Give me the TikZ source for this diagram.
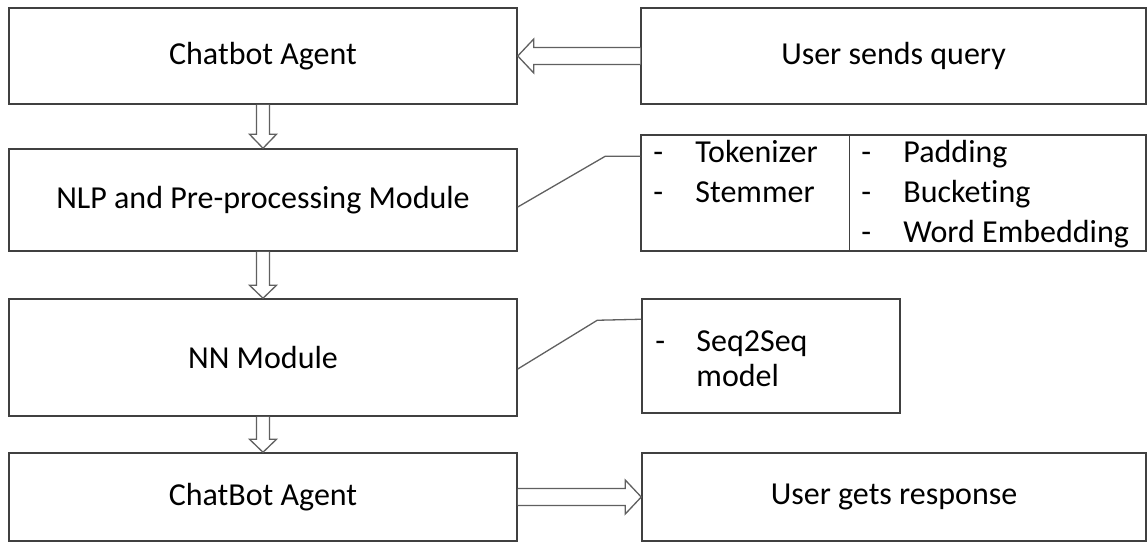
\documentclass[tikz,border=0pt]{standalone}
\usepackage{fontspec}
\setmainfont{Carlito}[Ligatures=NoCommon,Contextuals=NoAlternate]
\usetikzlibrary{calc}
\definecolor{boxline}{HTML}{404040}
\definecolor{arrline}{HTML}{606060}
\begin{document}
\begin{tikzpicture}[x=1pt,y=-1pt,
  box/.style={draw=boxline,line width=1.5pt,inner sep=0pt,font=\fontsize{32}{39}\selectfont},
  blockarr/.style={draw=arrline,line width=1.3pt,fill=white,line join=miter},
  link/.style={draw=arrline,line width=1.3pt},
  item/.style={anchor=base west,inner sep=0pt,font=\fontsize{32}{39}\selectfont}]
\useasboundingbox (0,0) rectangle (1147,544);
% boxes
\node[box,minimum width=508,minimum height=96] (c1) at (263,56) {\raisebox{-2pt}{Chatbot Agent}};
\node[box,minimum width=505,minimum height=96] (q) at (893.5,56) {\raisebox{-2pt}{User sends query}};
\node[box,minimum width=508,minimum height=102] (nlp) at (263,200) {\raisebox{-2pt}{NLP and Pre-processing Module}};
\node[box,minimum width=505,minimum height=116] (tok) at (893.5,193) {};
\node[box,minimum width=508,minimum height=117] (nn) at (263,357.5) {\raisebox{-2pt}{NN Module}};
\node[box,minimum width=258,minimum height=114] (seq) at (771,356) {};
\node[box,minimum width=508,minimum height=88] (c4) at (263,497) {\raisebox{-2pt}{ChatBot Agent}};
\node[box,minimum width=504,minimum height=88] (r) at (894,497) {\raisebox{-2pt}{User gets response}};
% divider in tokenizer box
\coordinate (dv) at ($(tok.north west)+(209,0)$);
\draw[draw=boxline,line width=1.5pt] (dv) -- (dv |- tok.south);
% list items
\node[item] (d1) at ($(tok.north west)+(13,28)$) {-};
\node[item] (t1) at ($(tok.north west)+(55,28)$) {Tokenizer};
\node[item] (d2) at ($(tok.north west)+(13,68)$) {-};
\node[item] (t2) at ($(tok.north west)+(55,68)$) {Stemmer};
\node[item] (d3) at ($(dv)+(12,28)$) {-};
\node[item] (t3) at ($(dv)+(54,28)$) {Padding};
\node[item] (d4) at ($(dv)+(12,68)$) {-};
\node[item] (t4) at ($(dv)+(54,68)$) {Bucketing};
\node[item] (d5) at ($(dv)+(12,108)$) {-};
\node[item] (t5) at ($(dv)+(54,108)$) {Word Embedding};
\node[item] (d6) at ($(seq.north west)+(14,53)$) {-};
\node[item] (t6) at ($(seq.north west)+(55,53)$) {Seq2Seq};
\node[item] (t7) at ($(seq.north west)+(55,88)$) {model};
% connectors to side boxes
\draw[link] ($(nlp.east)+(0,7)$) -- ($(tok.north west)+(-35,22)$) -- ($(tok.north west)+(0,22)$);
\draw[link] ($(nn.east)+(0,11.5)$) -- ($(seq.north west)+(-44,22)$) -- ($(seq.north west)+(0,21)$);
% horizontal block arrows
\draw[blockarr] ($(q.west)+(0,-8.5)$) -- ($(c1.east)+(16,-8.5)$) -- ($(c1.east)+(16,-17)$) -- (c1.east)
  -- ($(c1.east)+(16,17)$) -- ($(c1.east)+(16,8.5)$) -- ($(q.west)+(0,8.5)$);
\draw[blockarr] ($(c4.east)+(0,-8.5)$) -- ($(r.west)+(-16,-8.5)$) -- ($(r.west)+(-16,-17)$) -- (r.west)
  -- ($(r.west)+(-16,17)$) -- ($(r.west)+(-16,8.5)$) -- ($(c4.east)+(0,8.5)$);
% vertical block arrows
\draw[blockarr] ($(c1.south)+(-6.5,0)$) -- ($(nlp.north)+(-6.5,-14)$) -- ($(nlp.north)+(-13.5,-14)$) -- (nlp.north)
  -- ($(nlp.north)+(13.5,-14)$) -- ($(nlp.north)+(6.5,-14)$) -- ($(c1.south)+(6.5,0)$);
\draw[blockarr] ($(nlp.south)+(-6.5,0)$) -- ($(nn.north)+(-6.5,-13)$) -- ($(nn.north)+(-13.5,-13)$) -- (nn.north)
  -- ($(nn.north)+(13.5,-13)$) -- ($(nn.north)+(6.5,-13)$) -- ($(nlp.south)+(6.5,0)$);
\draw[blockarr] ($(nn.south)+(-6.5,0)$) -- ($(c4.north)+(-6.5,-13)$) -- ($(c4.north)+(-13.5,-13)$) -- (c4.north)
  -- ($(c4.north)+(13.5,-13)$) -- ($(c4.north)+(6.5,-13)$) -- ($(nn.south)+(6.5,0)$);
\end{tikzpicture}
\end{document}
